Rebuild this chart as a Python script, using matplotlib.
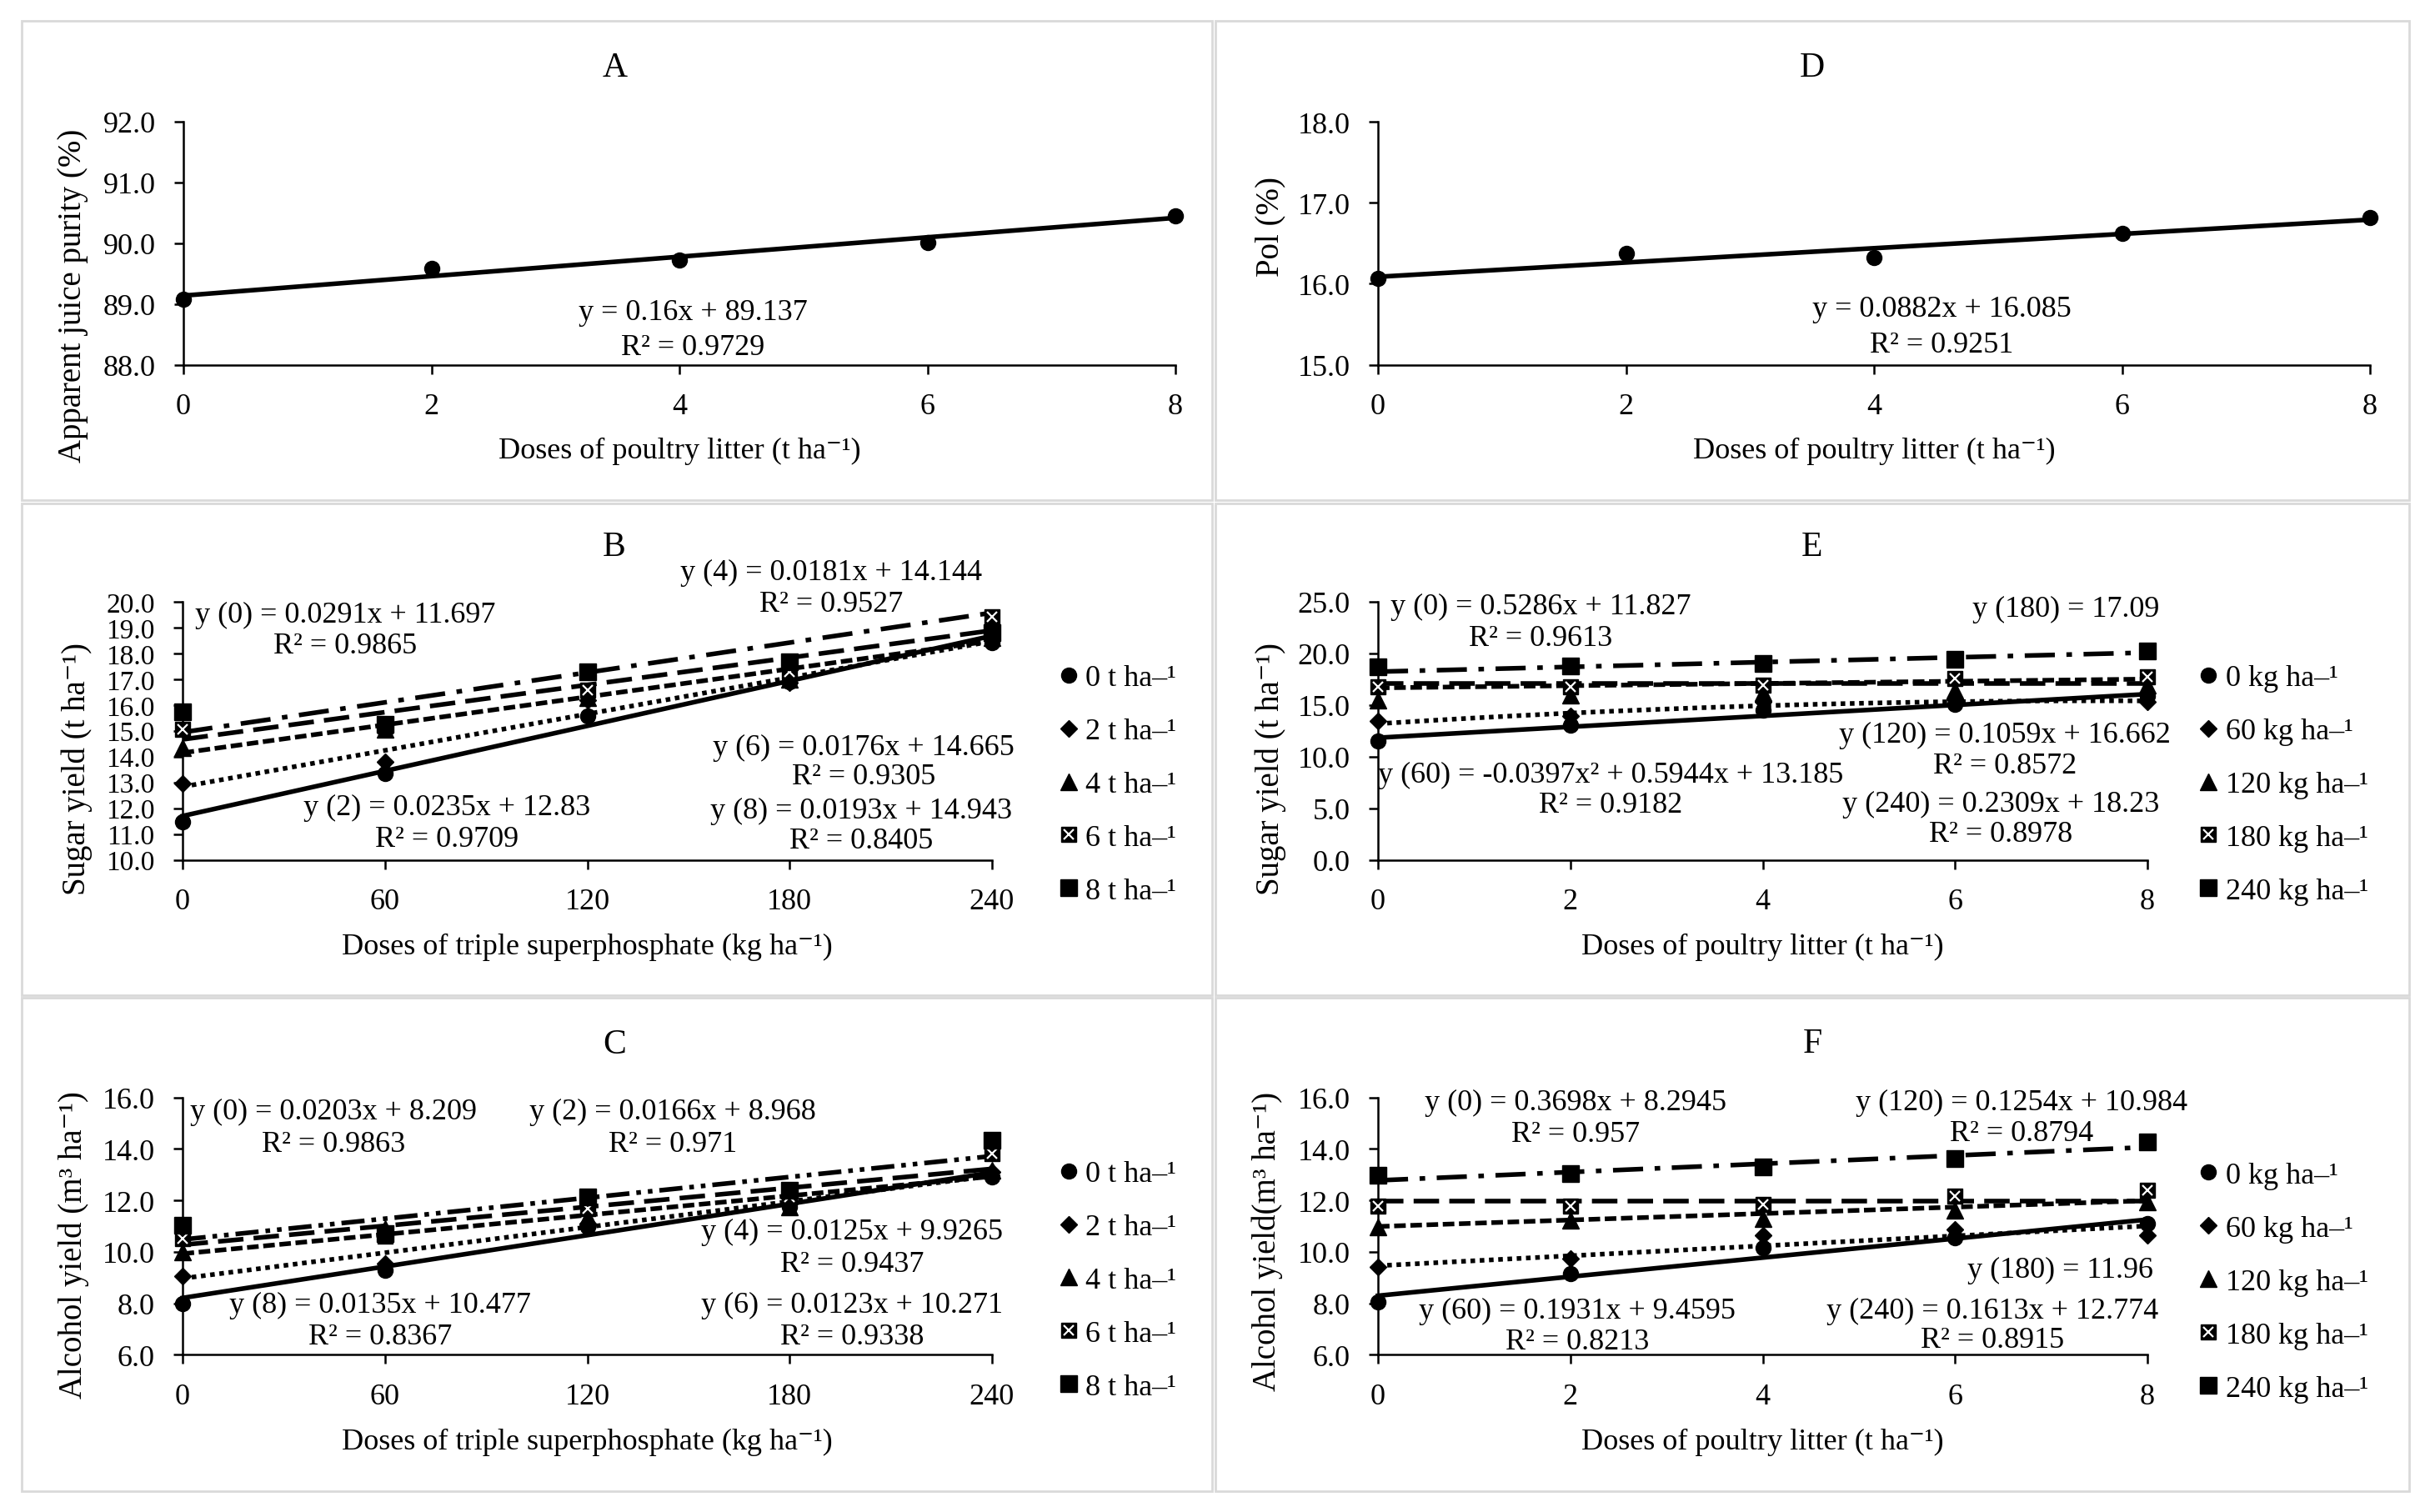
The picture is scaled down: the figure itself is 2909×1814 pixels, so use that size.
import numpy as np
import matplotlib
matplotlib.use("Agg")
import matplotlib.pyplot as plt
from matplotlib.lines import Line2D
from matplotlib.patches import Rectangle
from matplotlib.legend_handler import HandlerTuple
from matplotlib.ticker import FormatStrFormatter, MultipleLocator

plt.rcParams['font.family'] = ['Liberation Serif', 'DejaVu Serif']

# ---------------- data ----------------
pl_x = [0, 2, 4, 6, 8]                 # doses of poultry litter (t/ha)
tsp_x = [0, 60, 120, 180, 240]         # doses of triple superphosphate (kg/ha)

A_y = [89.08, 89.59, 89.72, 90.01, 90.45]
A_coef = [0.16, 89.137]
D_y = [16.07, 16.37, 16.32, 16.62, 16.82]
D_coef = [0.0882, 16.085]

B_labels = ["0 t ha–¹", "2 t ha–¹", "4 t ha–¹", "6 t ha–¹", "8 t ha–¹"]
B_0 = [11.47, 13.36, 15.58, 16.90, 18.42]
B_2 = [12.97, 13.81, 16.19, 16.87, 18.66]
B_4 = [14.33, 15.05, 16.30, 17.00, 18.60]
B_6 = [15.07, 15.20, 16.56, 17.30, 19.43]
B_8 = [15.75, 15.26, 17.30, 17.67, 18.80]
B_coefs = [[0.0291, 11.697], [0.0235, 12.83], [0.0181, 14.144], [0.0176, 14.665], [0.0193, 14.943]]

C_0 = [8.00, 9.29, 10.97, 11.74, 12.90]
C_2 = [9.06, 9.55, 11.10, 11.87, 13.10]
C_4 = [10.00, 10.90, 11.35, 11.74, 13.16]
C_6 = [10.52, 10.62, 11.68, 12.13, 13.80]
C_8 = [11.03, 10.71, 12.13, 12.39, 14.32]
C_coefs = [[0.0203, 8.209], [0.0166, 8.968], [0.0125, 9.9265], [0.0123, 10.271], [0.0135, 10.477]]

E_labels = ["0 kg ha–¹", "60 kg ha–¹", "120 kg ha–¹", "180 kg ha–¹", "240 kg ha–¹"]
E_0 = [11.55, 13.03, 14.50, 15.04, 15.84]
E_60 = [13.43, 13.97, 15.30, 15.58, 15.30]
E_120 = [15.44, 15.98, 16.20, 16.40, 16.90]
E_180 = [16.78, 16.78, 16.92, 17.59, 17.72]
E_240 = [18.66, 18.80, 19.06, 19.46, 20.27]
E_coefs = [[0.5286, 11.827], [-0.0397, 0.5944, 13.185], [0.1059, 16.662], [17.09], [0.2309, 18.23]]

F_0 = [8.05, 9.14, 10.16, 10.54, 11.08]
F_60 = [9.41, 9.73, 10.65, 10.86, 10.65]
F_120 = [10.97, 11.24, 11.30, 11.62, 11.95]
F_180 = [11.78, 11.78, 11.84, 12.16, 12.38]
F_240 = [12.97, 13.03, 13.30, 13.62, 14.27]
F_coefs = [[0.3698, 8.2945], [0.1931, 9.4595], [0.1254, 10.984], [11.96], [0.1613, 12.774]]

# ---------------- layout helpers ----------------
W, H = 2909, 1815
fig = plt.figure(figsize=(W / 100, H / 100), dpi=100)
FS = 26

def fx(x):
    return x / W

def fy(y):
    return 1 - y / H

def add_axes(l, t, r, b):
    return fig.add_axes([fx(l), fy(b), (r - l) / W, (b - t) / H])

def ftext(x, y, s, size=FS, **kw):
    fig.text(fx(x), fy(y), s, fontsize=size, ha='center', va='center', **kw)

# panel borders
for (x0, y0, x1, y1) in [(26, 26, 1454, 601), (1458, 26, 2890, 601),
                         (26, 605, 1454, 1195), (1458, 605, 2890, 1195),
                         (26, 1198, 1454, 1790), (1458, 1198, 2890, 1790)]:
    fig.add_artist(Rectangle((fx(x0), fy(y1)), (x1 - x0) / W, (y1 - y0) / H,
                             transform=fig.transFigure, fill=False,
                             ec='#d9d9d9', lw=2))

def style_axes(ax, xticks, ylim, ystep, ysize=FS):
    ax.set_xlim(xticks[0], xticks[-1])
    ax.set_ylim(*ylim)
    ax.set_xticks(xticks)
    ax.yaxis.set_major_locator(MultipleLocator(ystep))
    ax.yaxis.set_major_formatter(FormatStrFormatter('%.1f'))
    for s in ['top', 'right']:
        ax.spines[s].set_visible(False)
    for s in ['left', 'bottom']:
        ax.spines[s].set_linewidth(1.8)
        ax.spines[s].set_color('black')
    ax.tick_params(direction='out', length=8, width=1.8, labelsize=FS, pad=16)
    ax.tick_params(axis='y', labelsize=ysize)
    ax.patch.set_alpha(0)

styles = ['-', (0, (1, 1)), (0, (2.5, 1.0)), (0, (5.5, 2.2)), (0, (6.5, 2.5, 1.2, 2.5))]
styles_C = ['-', (0, (1, 1)), (0, (2.5, 1.0)), (0, (5.5, 2.2)), (0, (5, 1.5, 1, 1.5, 1, 1.5))]
LW = 4

MS_O, MS_D, MS_T, MS_SX, MS_S = 13, 10, 14, 13, 14

def draw_series(ax, x, y, kind, z):
    if kind == 'o':
        ax.plot(x, y, 'o', color='k', ms=MS_O, clip_on=False, zorder=z)
    elif kind == 'D':
        ax.plot(x, y, 'D', color='k', ms=MS_D, clip_on=False, zorder=z)
    elif kind == '^':
        ax.plot(x, y, '^', color='k', ms=MS_T, clip_on=False, zorder=z)
    elif kind == 'sx':
        ax.plot(x, y, 's', color='k', ms=MS_SX, clip_on=False, zorder=z)
        ax.plot(x, y, 'x', color='w', ms=MS_SX * 0.7, mew=1.6, clip_on=False, zorder=z + 0.1)
    elif kind == 's':
        ax.plot(x, y, 's', color='k', ms=MS_S, clip_on=False, zorder=z)

def legend_handles():
    return [Line2D([], [], marker='o', color='k', ms=MS_O, ls='none'),
            Line2D([], [], marker='D', color='k', ms=MS_D, ls='none'),
            Line2D([], [], marker='^', color='k', ms=MS_T, ls='none'),
            (Line2D([], [], marker='s', color='k', ms=MS_SX, ls='none'),
             Line2D([], [], marker='x', color='w', ms=MS_SX * 0.7, mew=1.6, ls='none')),
            Line2D([], [], marker='s', color='k', ms=MS_S, ls='none')]

kinds = ['o', 'D', '^', 'sx', 's']

def multi_panel(ax, x, series, coefs, lstyles, labels, leg_left, leg_cy):
    xx = np.linspace(x[0], x[-1], 200)
    for i, (y, c) in enumerate(zip(series, coefs)):
        ax.plot(xx, np.polyval(c, xx), color='k', lw=LW, ls=lstyles[i],
                zorder=2, clip_on=False)
    for i, y in enumerate(series):
        draw_series(ax, x, y, kinds[i], 3 + i * 0.2)
    ax.legend(legend_handles(), labels, loc='center left',
              bbox_to_anchor=(fx(leg_left), fy(leg_cy)), bbox_transform=fig.transFigure,
              frameon=False, fontsize=FS, handlelength=0.65, handletextpad=0.25,
              labelspacing=0.85, borderpad=0, borderaxespad=0,
              handler_map={tuple: HandlerTuple(ndivide=1)})

# ---------------- Panel A ----------------
axA = add_axes(220, 147, 1410, 438.5)
style_axes(axA, pl_x, (88, 92), 1)
xx = np.linspace(0, 8, 50)
axA.plot(xx, np.polyval(A_coef, xx), color='k', lw=LW, zorder=2)
axA.plot(pl_x, A_y, 'o', color='k', ms=MS_O, clip_on=False, zorder=3)
ftext(738, 82, 'A', size=30)
ftext(815, 541, 'Doses of poultry litter (t ha⁻¹)')
ftext(88, 355, 'Apparent juice purity (%)', size=28, rotation=90)
ftext(831, 375.5, 'y = 0.16x + 89.137')
ftext(831, 418, 'R² = 0.9729')

# ---------------- Panel D ----------------
axD = add_axes(1653, 147, 2843, 438.5)
style_axes(axD, pl_x, (15, 18), 1)
axD.plot(xx, np.polyval(D_coef, xx), color='k', lw=LW, zorder=2)
axD.plot(pl_x, D_y, 'o', color='k', ms=MS_O, clip_on=False, zorder=3)
ftext(2174, 82, 'D', size=30)
ftext(2248, 541, 'Doses of poultry litter (t ha⁻¹)')
ftext(1524, 271.5, 'Pol (%)', size=28, rotation=90)
ftext(2329, 371.6, 'y = 0.0882x + 16.085')
ftext(2329, 414.4, 'R² = 0.9251')

# ---------------- Panel B ----------------
axB = add_axes(219, 723, 1190, 1032.5)
style_axes(axB, tsp_x, (10, 20), 1, ysize=24)
multi_panel(axB, tsp_x, [B_0, B_2, B_4, B_6, B_8], B_coefs, styles, B_labels, 1270, 942.5)
ftext(737, 657, 'B', size=30)
ftext(704.5, 1136, 'Doses of triple superphosphate (kg ha⁻¹)')
ftext(92, 922, 'Sugar yield (t ha⁻¹)', size=28, rotation=90)
for (x, y, s) in [(414, 738, 'y (0) = 0.0291x + 11.697'), (414, 776, 'R² = 0.9865'),
                  (997, 687, 'y (4) = 0.0181x + 14.144'), (997, 726, 'R² = 0.9527'),
                  (1036, 897, 'y (6) = 0.0176x + 14.665'), (1036, 933, 'R² = 0.9305'),
                  (1033, 973, 'y (8) = 0.0193x + 14.943'), (1033, 1009.5, 'R² = 0.8405'),
                  (536.5, 969, 'y (2) = 0.0235x + 12.83'), (536.5, 1007.6, 'R² = 0.9709')]:
    ftext(x, y, s)

# ---------------- Panel E ----------------
axE = add_axes(1653, 723, 2576, 1032.5)
style_axes(axE, pl_x, (0, 25), 5)
multi_panel(axE, pl_x, [E_0, E_60, E_120, E_180, E_240], E_coefs, styles, E_labels, 2637, 942.5)
ftext(2174, 657, 'E', size=30)
ftext(2114.5, 1136, 'Doses of poultry litter (t ha⁻¹)')
ftext(1524, 922, 'Sugar yield (t ha⁻¹)', size=28, rotation=90)
for (x, y, s) in [(1848, 728, 'y (0) = 0.5286x + 11.827'), (1848, 766.5, 'R² = 0.9613'),
                  (2478, 731, 'y (180) = 17.09'),
                  (1932, 930, 'y (60) = -0.0397x² + 0.5944x + 13.185'), (1932, 966.5, 'R² = 0.9182'),
                  (2405, 882, 'y (120) = 0.1059x + 16.662'), (2405, 919.5, 'R² = 0.8572'),
                  (2400, 965.5, 'y (240) = 0.2309x + 18.23'), (2400, 1002, 'R² = 0.8978')]:
    ftext(x, y, s)

# ---------------- Panel C ----------------
axC = add_axes(219, 1317.5, 1190, 1626.4)
style_axes(axC, tsp_x, (6, 16), 2)
multi_panel(axC, tsp_x, [C_0, C_2, C_4, C_6, C_8], C_coefs, styles_C, B_labels, 1270, 1537.5)
ftext(737, 1254, 'C', size=30)
ftext(704.5, 1730, 'Doses of triple superphosphate (kg ha⁻¹)')
ftext(88, 1494, 'Alcohol yield (m³ ha⁻¹)', size=28, rotation=90)
for (x, y, s) in [(400, 1334, 'y (0) = 0.0203x + 8.209'), (400, 1373, 'R² = 0.9863'),
                  (807, 1334, 'y (2) = 0.0166x + 8.968'), (807, 1373, 'R² = 0.971'),
                  (1022, 1478.5, 'y (4) = 0.0125x + 9.9265'), (1022, 1517.5, 'R² = 0.9437'),
                  (456, 1566.6, 'y (8) = 0.0135x + 10.477'), (456, 1604.5, 'R² = 0.8367'),
                  (1022, 1566.6, 'y (6) = 0.0123x + 10.271'), (1022, 1604.5, 'R² = 0.9338')]:
    ftext(x, y, s)

# ---------------- Panel F ----------------
axF = add_axes(1653, 1317.5, 2576, 1626.4)
style_axes(axF, pl_x, (6, 16), 2)
multi_panel(axF, pl_x, [F_0, F_60, F_120, F_180, F_240], F_coefs, styles, E_labels, 2637, 1539)
ftext(2174, 1253, 'F', size=30)
ftext(2114.5, 1730, 'Doses of poultry litter (t ha⁻¹)')
ftext(1520, 1489, 'Alcohol yield(m³ ha⁻¹)', size=28, rotation=90)
for (x, y, s) in [(1890, 1323, 'y (0) = 0.3698x + 8.2945'), (1890, 1362, 'R² = 0.957'),
                  (2425, 1323, 'y (120) = 0.1254x + 10.984'), (2425, 1361, 'R² = 0.8794'),
                  (2471, 1524, 'y (180) = 11.96'),
                  (1892, 1573, 'y (60) = 0.1931x + 9.4595'), (1892, 1611, 'R² = 0.8213'),
                  (2390, 1573, 'y (240) = 0.1613x + 12.774'), (2390, 1609, 'R² = 0.8915')]:
    ftext(x, y, s)

fig.savefig('out.png', dpi=100)
